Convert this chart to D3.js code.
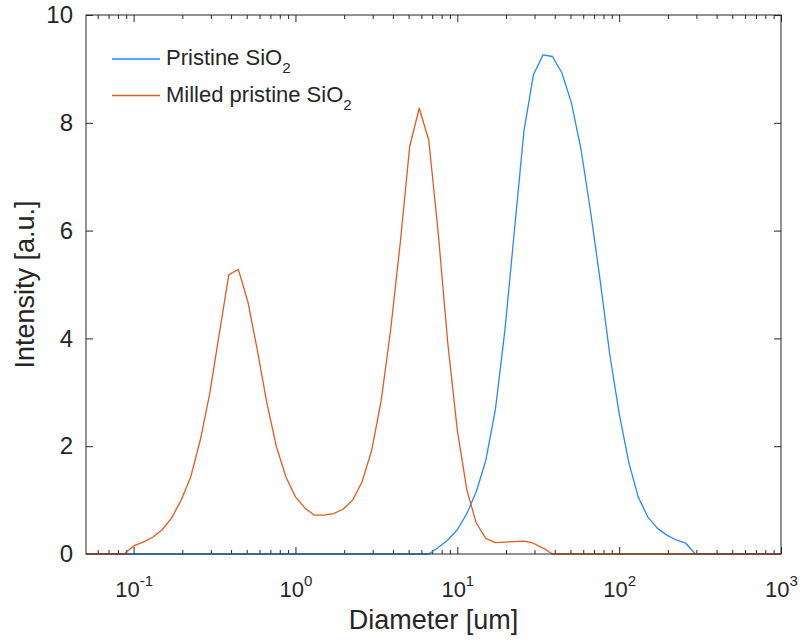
<!DOCTYPE html>
<html>
<head>
<meta charset="utf-8">
<script src="https://cdn.jsdelivr.net/npm/d3@7"></script>
<style>
  html, body { margin: 0; padding: 0; background: #fff; }
  svg { display: block; font-family: "Liberation Sans", Arial, Helvetica, sans-serif; }
</style>
</head>
<body>
<svg id="chart" width="801" height="640"></svg>
<script>
// ---- data ----
const diameters = [
  0.05080, 0.05817, 0.06661, 0.07627, 0.08733,
  0.1000, 0.1145, 0.1311, 0.1501, 0.1719, 0.1968, 0.2254, 0.2581, 0.2955, 0.3384, 0.3875, 0.4437, 0.5080, 0.5817, 0.6661, 0.7627, 0.8733,
  1.000, 1.145, 1.311, 1.501, 1.719, 1.968, 2.254, 2.581, 2.955, 3.384, 3.875, 4.437, 5.080, 5.817, 6.661, 7.627, 8.733,
  10.00, 11.45, 13.11, 15.01, 17.19, 19.68, 22.54, 25.81, 29.55, 33.84, 38.75, 44.37, 50.80, 58.17, 66.61, 76.27, 87.33,
  100.0, 114.5, 131.1, 150.1, 171.9, 196.8, 225.4, 258.1, 295.5, 338.4, 387.5, 443.7, 508.0, 581.7, 666.1, 762.7, 873.3,
  1000
];
const pristine = [
  0, 0, 0, 0, 0,
  0, 0, 0, 0, 0, 0, 0, 0, 0, 0, 0, 0, 0, 0, 0, 0, 0,
  0, 0, 0, 0, 0, 0, 0, 0, 0, 0, 0, 0, 0, 0, 0, 0.12, 0.26,
  0.45, 0.75, 1.16, 1.74, 2.68, 4.15, 6.00, 7.85, 8.89, 9.26, 9.23, 8.92, 8.36, 7.50, 6.35, 5.08, 3.72,
  2.61, 1.71, 1.06, 0.69, 0.48, 0.35, 0.26, 0.20, 0, 0, 0, 0, 0, 0, 0, 0, 0,
  0
];
const milled = [
  0, 0, 0, 0, 0,
  0.15, 0.22, 0.31, 0.45, 0.67, 1.00, 1.43, 2.11, 2.98, 4.09, 5.18, 5.28, 4.68, 3.78, 2.80, 1.99, 1.43,
  1.06, 0.85, 0.72, 0.72, 0.75, 0.83, 1.00, 1.34, 1.92, 2.84, 4.16, 5.76, 7.56, 8.27, 7.68, 5.95, 3.91,
  2.30, 1.19, 0.57, 0.29, 0.21, 0.22, 0.23, 0.24, 0.20, 0.11, 0, 0, 0, 0, 0, 0, 0,
  0, 0, 0, 0, 0, 0, 0, 0, 0, 0, 0, 0, 0, 0, 0, 0, 0,
  0
];
const seriesNames = ["Pristine SiO", "Milled pristine SiO"];
const xTickValues = [0.1, 1, 10, 100, 1000];
const xTickExponents = ["-1", "0", "1", "2", "3"];
const yTickValues = [0, 2, 4, 6, 8, 10];
const xLabel = "Diameter [um]";
const yLabel = "Intensity [a.u.]";

// ---- layout ----
const W = 801, H = 640;
const m = { left: 86, right: 20, top: 15, bottom: 86 };
const pw = W - m.left - m.right;   // 695
const ph = H - m.top - m.bottom;   // 539
const textColor = "#262626";
const colors = ["#268BF5", "#E65A1E"];

const svg = d3.select("#chart");
const g = svg.append("g").attr("transform", `translate(${m.left},${m.top})`);

const x = d3.scaleLog().domain([diameters[0], diameters[diameters.length - 1]]).range([0, pw]);
const y = d3.scaleLinear().domain([0, 10]).range([ph, 0]);

// minor ticks
const minorVals = [];
[0.01, 0.1, 1, 10, 100].forEach(dec => {
  for (let k = 2; k <= 9; k++) {
    const v = dec * k;
    if (v >= x.domain()[0] && v <= x.domain()[1]) minorVals.push(v);
  }
});

function styleAxis(sel) {
  sel.select(".domain").remove();
  sel.selectAll(".tick line").attr("stroke", textColor).attr("stroke-width", 1);
}

// bottom axis: major + minor
g.append("g").attr("transform", `translate(0,${ph})`)
  .call(d3.axisBottom(x).tickValues(minorVals).tickSize(-4).tickFormat(""))
  .call(styleAxis);
const xb = g.append("g").attr("transform", `translate(0,${ph})`)
  .call(d3.axisBottom(x).tickValues(xTickValues).tickSize(-7).tickFormat(""))
  .call(styleAxis);
xb.selectAll(".tick text").remove();
xb.selectAll(".tick").each(function(d, i) {
  const t = d3.select(this).append("text")
    .attr("y", 43)
    .attr("fill", textColor)
    .attr("text-anchor", "middle")
    .style("font-size", "22px");
  t.append("tspan").text("10");
  t.append("tspan").attr("dy", -11).style("font-size", "15px").text(xTickExponents[i]);
});

// top axis
g.append("g")
  .call(d3.axisTop(x).tickValues(minorVals).tickSize(-4).tickFormat(""))
  .call(styleAxis);
g.append("g")
  .call(d3.axisTop(x).tickValues(xTickValues).tickSize(-7).tickFormat(""))
  .call(styleAxis);

// left axis
const yl = g.append("g")
  .call(d3.axisLeft(y).tickValues(yTickValues).tickSize(-7).tickPadding(13))
  .call(styleAxis);
yl.selectAll(".tick text").attr("fill", textColor).style("font-size", "24px")
  .style("font-family", "'Liberation Sans', Arial, sans-serif");
// right axis
g.append("g").attr("transform", `translate(${pw},0)`)
  .call(d3.axisRight(y).tickValues(yTickValues).tickSize(-7).tickFormat(""))
  .call(styleAxis);

// lines
const line = (vals) => d3.line()
  .x((d, i) => x(diameters[i]))
  .y(d => y(d))(vals);

g.append("path").attr("d", line(pristine))
  .attr("fill", "none").attr("stroke", colors[0]).attr("stroke-width", 1.3)
  .attr("stroke-linejoin", "round");
g.append("path").attr("d", line(milled))
  .attr("fill", "none").attr("stroke", colors[1]).attr("stroke-width", 1.3)
  .attr("stroke-linejoin", "round");

// box
g.append("rect").attr("x", 0).attr("y", 0).attr("width", pw).attr("height", ph)
  .attr("fill", "none").attr("stroke", textColor).attr("stroke-width", 1);

// axis labels
svg.append("text")
  .attr("x", m.left + pw / 2).attr("y", 629)
  .attr("text-anchor", "middle").attr("fill", textColor)
  .style("font-size", "27px").text(xLabel);
svg.append("text")
  .attr("transform", `translate(34,${m.top + ph / 2}) rotate(-90)`)
  .attr("text-anchor", "middle").attr("fill", textColor)
  .style("font-size", "27px").text(yLabel);

// legend
const legend = svg.append("g");
seriesNames.forEach((name, i) => {
  const ly = 59 + i * 36.5;
  legend.append("line")
    .attr("x1", 112).attr("x2", 160).attr("y1", ly).attr("y2", ly)
    .attr("stroke", colors[i]).attr("stroke-width", 1.3);
  const t = legend.append("text")
    .attr("x", 166).attr("y", ly + 6)
    .attr("fill", textColor).style("font-size", "22px");
  t.append("tspan").text(name);
  t.append("tspan").attr("dy", 8).style("font-size", "15px").text("2");
});
</script>
</body>
</html>
